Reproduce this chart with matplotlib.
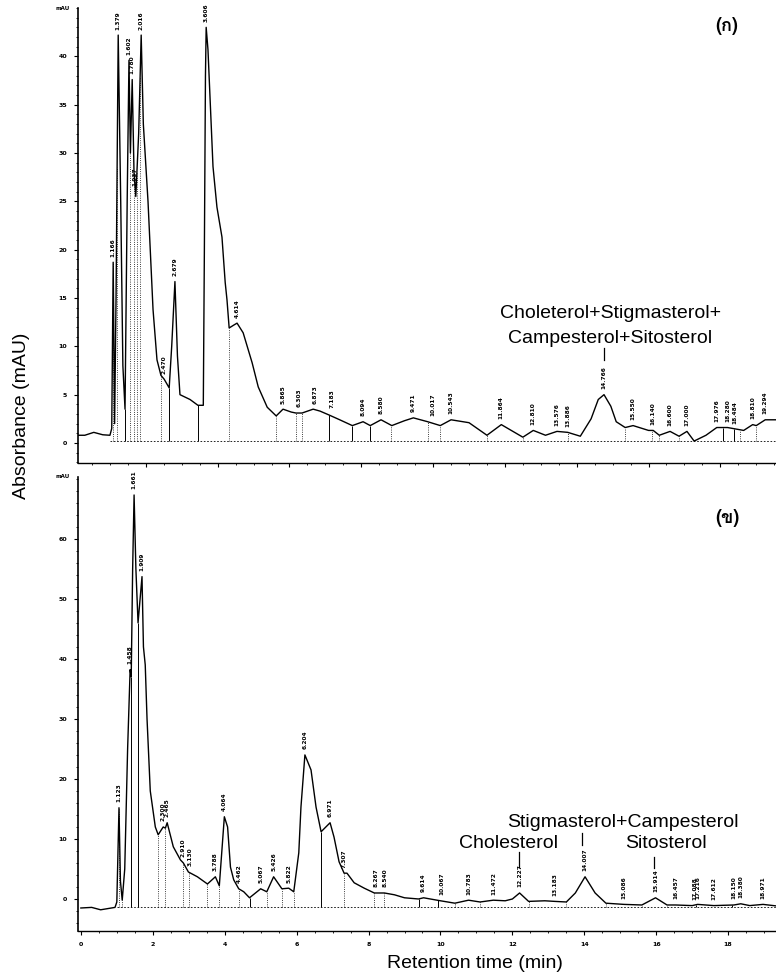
import numpy as np
import matplotlib
matplotlib.use("Agg")
import matplotlib.pyplot as plt
from matplotlib import font_manager, ft2font
from matplotlib.ticker import MultipleLocator

plt.rcParams['font.family'] = ['Liberation Sans', 'DejaVu Sans']

# ---- panel (ก): trace (min, mAU)
top_t = [0.0, 0.3, 0.55, 0.8, 1.0, 1.05, 1.09, 1.13, 1.17, 1.23, 1.30, 1.36, 1.42, 1.48,
         1.53, 1.57, 1.62, 1.67, 1.72, 1.80, 1.87, 1.93, 2.06, 2.20, 2.31, 2.42, 2.51,
         2.65, 2.72, 2.81, 2.88, 2.95, 3.23, 3.45, 3.60, 3.63, 3.66, 3.68, 3.73, 3.87,
         3.98, 4.12, 4.21, 4.26, 4.32, 4.45, 4.54, 4.71, 4.96, 5.13, 5.38, 5.63, 5.82,
         6.05, 6.18, 6.35, 6.66, 6.85, 7.1, 7.4, 7.75, 8.05, 8.25, 8.55, 8.85, 9.2,
         9.45, 9.85, 10.2, 10.5, 11.0, 11.5, 11.9, 12.5, 12.79, 13.13, 13.45, 13.75,
         14.1, 14.4, 14.6, 14.76, 14.95, 15.1, 15.35, 15.57, 16.0, 16.13, 16.3, 16.6,
         16.85, 17.07, 17.27, 17.6, 17.9, 18.2, 18.65, 18.9, 19.0, 19.25, 19.6]
top_v = [0.8, 0.8, 1.1, 0.85, 0.8, 1.5, 18.7, 2.0, 15.0, 42.2, 25.0, 8.0, 3.5, 25.0,
         39.6, 30.0, 37.6, 28.0, 25.5, 32.0, 42.2, 33.0, 25.0, 13.8, 8.6, 7.0, 6.6,
         5.7, 10.0, 16.7, 9.0, 5.0, 4.5, 3.9, 3.9, 20.0, 38.0, 43.0, 40.7, 28.6,
         24.4, 21.3, 16.6, 14.8, 11.9, 12.2, 12.4, 11.4, 8.3, 5.8, 3.7, 2.8, 3.5,
         3.2, 3.1, 3.1, 3.5, 3.3, 2.9, 2.4, 1.8, 2.2, 1.8, 2.4, 1.8, 2.3,
         2.6, 2.2, 1.8, 2.4, 2.1, 0.8, 1.9, 0.6, 1.3, 0.8, 1.2, 1.1,
         0.7, 2.5, 4.5, 5.0, 3.8, 2.2, 1.6, 1.8, 1.3, 1.3, 0.8, 1.2,
         0.7, 1.2, 0.2, 0.8, 1.6, 1.6, 1.3, 1.9, 1.8, 2.4, 2.4]
top_labels = ['1.166', '1.379', '1.602', '1.780', '1.937', '2.016', '2.470', '2.679',
              '3.606', '4.614', '5.865', '6.303', '6.873', '7.183', '8.094', '8.580',
              '9.471', '10.017', '10.543', '11.864', '12.810', '13.576', '13.886',
              '14.766', '15.550', '16.140', '16.600', '17.000', '17.976', '18.280',
              '18.484', '18.810', '19.294']
top_label_t = [1.09, 1.23, 1.53, 1.62, 1.70, 1.87, 2.51, 2.81, 3.68, 4.54, 5.82, 6.27,
               6.71, 7.19, 8.05, 8.55, 9.44, 10.0, 10.5, 11.9, 12.79, 13.45, 13.76,
               14.76, 15.57, 16.13, 16.6, 17.07, 17.9, 18.2, 18.4, 18.9, 19.25]
top_label_v = [18.7, 42.2, 39.6, 37.6, 26.0, 42.2, 6.6, 16.7, 43.0, 12.4, 3.5, 3.2,
               3.5, 3.0, 2.2, 2.4, 2.6, 2.2, 2.4, 1.9, 1.3, 1.2, 1.1, 5.0, 1.8, 1.3,
               1.2, 1.2, 1.6, 1.6, 1.4, 1.9, 2.4]
top_drop_dotted = [1.09, 1.20, 1.57, 1.67, 1.75, 1.84, 2.42, 4.32, 5.63, 6.18, 6.35,
                   8.83, 9.86, 10.2, 11.5, 12.5, 13.76, 15.35, 16.1, 16.3, 16.85, 18.55, 19.0]
top_drop_solid = [1.42, 2.65, 3.45, 7.10, 7.75, 8.25, 17.27, 18.08, 18.38]

# ---- panel (ข)
bot_t = [0.0, 0.3, 0.55, 0.75, 0.95, 1.00, 1.06, 1.10, 1.15, 1.22, 1.30, 1.37, 1.40,
         1.44, 1.48, 1.53, 1.59, 1.70, 1.74, 1.79, 1.84, 1.93, 2.07, 2.15, 2.29, 2.35,
         2.40, 2.57, 2.77, 2.85, 2.99, 3.24, 3.52, 3.74, 3.85, 3.99, 4.08, 4.16, 4.25,
         4.39, 4.53, 4.69, 5.0, 5.17, 5.36, 5.59, 5.78, 5.92, 6.06, 6.12, 6.23, 6.40,
         6.54, 6.68, 6.93, 7.04, 7.18, 7.32, 7.40, 7.6, 7.88, 8.16, 8.44, 8.72, 9.0,
         9.39, 9.53, 10.0, 10.4, 10.78, 11.1, 11.47, 11.8, 12.0, 12.2, 12.45, 12.9,
         13.18, 13.5, 13.75, 14.02, 14.3, 14.6, 15.1, 15.6, 15.98, 16.3, 16.54, 17.0,
         17.15, 17.6, 18.16, 18.35, 18.6, 18.97, 19.4]
bot_v = [-1.5, -1.4, -1.8, -1.6, -1.4, -0.5, 15.2, 3.0, -0.2, 5.0, 25.0, 38.2, 37.0,
         55.0, 67.3, 55.0, 46.0, 53.7, 42.0, 39.0, 30.0, 18.0, 12.0, 10.7, 12.0, 11.8,
         12.7, 8.7, 6.5, 6.0, 4.5, 3.7, 2.5, 3.7, 2.2, 13.7, 12.0, 5.3, 3.2,
         1.7, 1.2, 0.2, 1.7, 1.2, 3.7, 1.7, 1.8, 1.2, 7.7, 15.3, 24.0, 21.5,
         15.3, 11.2, 12.7, 10.3, 6.2, 4.3, 4.3, 2.7, 1.8, 1.0, 1.0, 0.7, 0.2,
         0.0, 0.2, -0.3, -0.7, -0.2, -0.5, -0.2, -0.3, 0.0, 1.0, -0.4, -0.3,
         -0.4, -0.5, 1.0, 3.7, 1.0, -0.7, -0.9, -1.0, 0.2, -1.0, -1.0, -1.1,
         -0.9, -1.1, -1.0, -0.8, -1.1, -0.9, -1.2]
bot_labels = ['1.123', '1.458', '1.661', '1.909', '2.300', '2.465', '2.910', '3.130',
              '3.788', '4.064', '4.462', '5.067', '5.426', '5.822', '6.204', '6.971',
              '7.307', '8.267', '8.540', '9.614', '10.067', '10.783', '11.472', '12.227',
              '13.183', '14.007', '15.086', '15.914', '16.457', '17.088', '17.216',
              '17.612', '18.150', '18.380', '18.971']
bot_label_t = [1.06, 1.37, 1.48, 1.70, 2.29, 2.40, 2.85, 3.04, 3.74, 3.99, 4.41, 5.0,
               5.36, 5.78, 6.23, 6.93, 7.32, 8.2, 8.45, 9.53, 10.03, 10.78, 11.48, 12.2,
               13.18, 14.02, 15.1, 15.98, 16.54, 17.07, 17.17, 17.6, 18.16, 18.35, 18.97]
bot_label_v = [15.2, 38.2, 67.3, 53.7, 12.0, 12.7, 6.0, 4.5, 3.7, 13.7, 1.7, 1.7, 3.7,
               1.8, 24.0, 12.7, 4.3, 1.0, 1.0, 0.2, -0.3, -0.2, -0.2, 1.0, -0.4, 3.7,
               -0.9, 0.2, -1.0, -1.1, -0.9, -1.1, -1.0, -0.8, -0.9]
bot_drop_dotted = [1.06, 1.15, 2.15, 2.35, 2.85, 3.02, 3.52, 3.85, 4.39, 5.17, 5.59,
                   5.92, 7.32, 8.16, 8.44, 10.4, 11.1, 12.45, 13.5, 14.6, 15.6, 16.3]
bot_drop_solid = [1.40, 1.59, 4.69, 6.68, 9.39, 9.92, 17.1, 18.1]

# a family that carries Thai letters for the panel tags
thai_family = []
for f in font_manager.fontManager.ttflist:
    try:
        ft = ft2font.FT2Font(f.fname)
        if ft.get_char_index(ord('ก')) and ft.get_char_index(ord('ข')):
            thai_family = [f.name]
            break
    except Exception:
        pass

fig = plt.figure(figsize=(7.76, 9.77), dpi=100)
ax1 = fig.add_axes([0.1005, 0.5261, 0.8995, 0.4657])
ax2 = fig.add_axes([0.1005, 0.0471, 0.8995, 0.4647])


def panel(ax, t, v, labels, label_t, label_v, dotted, solid, base, xlim, ylim, yticks, ymin):
    ax.plot(t, v, color='black', lw=1.0)
    ax.plot([1.0, xlim[1]], [base, base], color='black', lw=0.6, ls=(0, (2, 2)))
    ax.vlines(dotted, base, np.interp(dotted, t, v), colors='black', lw=0.6, linestyles=':')
    ax.vlines(solid, base, np.interp(solid, t, v), colors='black', lw=0.7)
    for s, x, h in zip(labels, label_t, label_v):
        ax.annotate(s, (x, h), xytext=(0, 4), textcoords='offset points',
                    rotation=90, ha='center', va='bottom', fontsize=4.2,
                    fontweight='bold', family='DejaVu Sans')
    ax.set_xlim(*xlim)
    ax.set_ylim(*ylim)
    ax.set_yticks(yticks)
    ax.yaxis.set_minor_locator(MultipleLocator(ymin))
    ax.xaxis.set_major_locator(MultipleLocator(2))
    ax.xaxis.set_minor_locator(MultipleLocator(0.5))
    for sp in ['top', 'right']:
        ax.spines[sp].set_visible(False)
    ax.spines['left'].set_linewidth(1.2)
    ax.spines['bottom'].set_linewidth(1.0)
    ax.tick_params(which='major', length=3, width=0.8, labelsize=4.5, pad=5)
    ax.tick_params(which='minor', length=1.5, width=0.6)
    for lab in ax.get_yticklabels() + ax.get_xticklabels():
        lab.set_fontweight('bold')
        lab.set_family('DejaVu Sans')
    ax.text(-0.012, 1.0, 'mAU', transform=ax.transAxes, ha='right', va='center',
            fontsize=4, fontweight='bold', family='DejaVu Sans')


panel(ax1, top_t, top_v, top_labels, top_label_t, top_label_v, top_drop_dotted,
      top_drop_solid, 0.2, (0.11, 19.55), (-2.07, 45.0), range(0, 45, 5), 1)
ax1.tick_params(axis='x', labelbottom=False)
panel(ax2, bot_t, bot_v, bot_labels, bot_label_t, bot_label_v, bot_drop_dotted,
      bot_drop_solid, -1.3, (-0.08, 19.33), (-5.33, 70.3), range(0, 70, 10), 2)

# compound annotations
ax1.text(14.93, 13.4, 'Choleterol+Stigmasterol+', ha='center', va='center', fontsize=14)
ax1.text(14.93, 10.8, 'Campesterol+Sitosterol', ha='center', va='center', fontsize=14)
ax1.plot([14.76, 14.76], [9.8, 8.6], color='black', lw=0.9)

ax2.text(15.06, 12.8, 'Stigmasterol+Campesterol', ha='center', va='center', fontsize=14)
ax2.text(11.9, 9.3, 'Cholesterol', ha='center', va='center', fontsize=14)
ax2.text(16.26, 9.3, 'Sitosterol', ha='center', va='center', fontsize=14)
ax2.plot([12.18, 12.18], [7.8, 5.3], color='black', lw=0.9)
ax2.plot([13.94, 13.94], [11.0, 9.0], color='black', lw=0.9)
ax2.plot([15.95, 15.95], [7.0, 5.2], color='black', lw=0.9)

tag_family = thai_family + ['DejaVu Sans']
fig.text(727 / 776, 1 - 26 / 977, '(ก)', ha='center', va='center', fontsize=13,
         fontweight='bold', family=tag_family)
fig.text(727 / 776, 1 - 518 / 977, '(ข)', ha='center', va='center', fontsize=13,
         fontweight='bold', family=tag_family)

fig.text(22 / 776, 1 - 416 / 977, 'Absorbance (mAU)', rotation=90, ha='center',
         va='center', fontsize=14)
fig.text(475 / 776, 1 - 963 / 977, 'Retention time (min)', ha='center', va='center',
         fontsize=14)

fig.savefig('out.png', dpi=100)
